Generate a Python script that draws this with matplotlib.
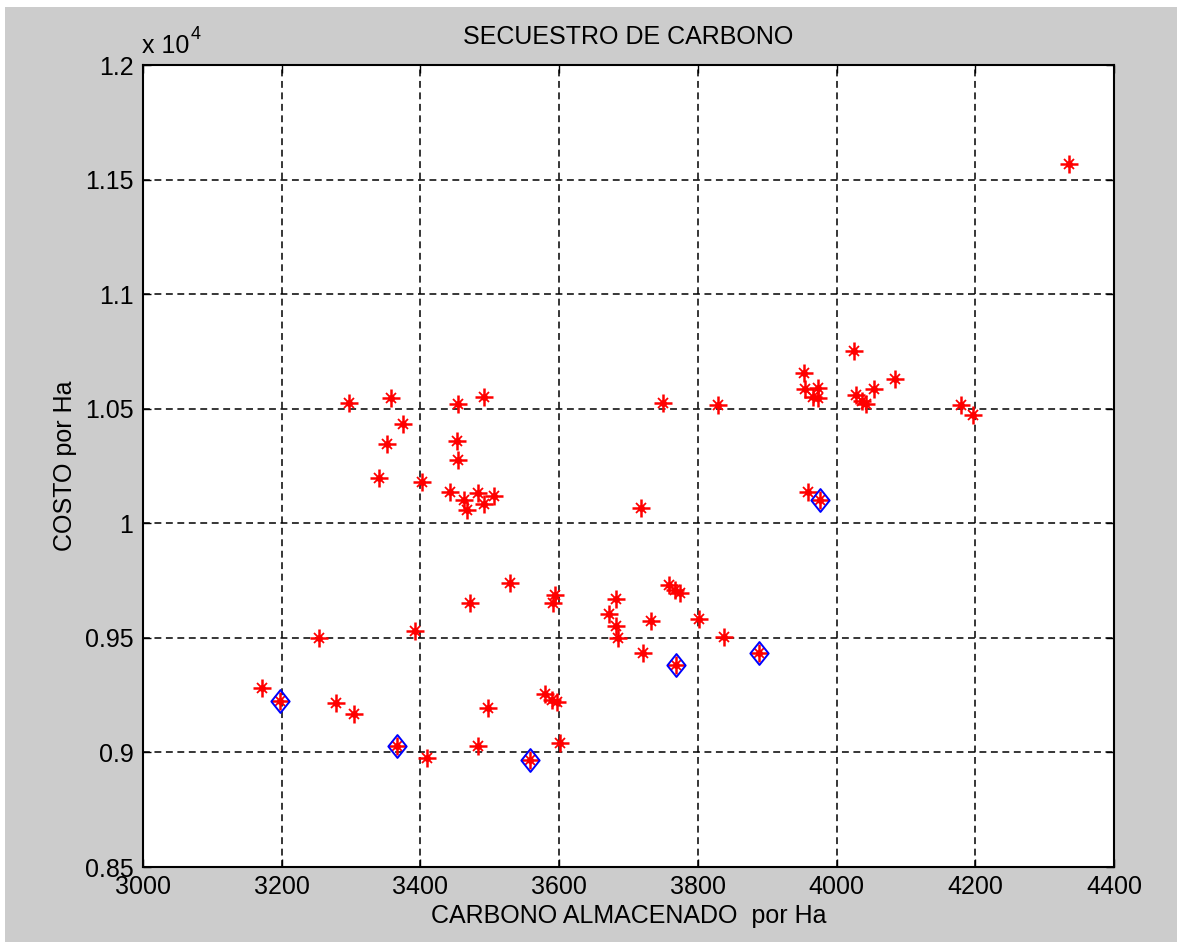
import matplotlib
matplotlib.use("Agg")
import matplotlib.pyplot as plt
from matplotlib.path import Path
from matplotlib.ticker import FuncFormatter
from matplotlib.patches import Rectangle

# carbon stored vs cost, one point per scenario
CARBONO = [
    3297, 3358, 3375, 3352, 3340, 3402, 3454, 3492, 3453, 3454, 3443, 3463,
    3467, 3483, 3492, 3506,
    3750, 3829, 3718, 3529, 3471, 3594, 3591, 3254, 3392, 3758, 3767, 3774,
    3682, 3672, 3682, 3685, 3732, 3802, 3838, 3721, 3768, 3888, 3959, 3976,
    3172, 3198, 3278, 3304, 3366, 3409, 3483, 3497, 3558, 3580, 3590, 3597, 3601,
    3953, 3954, 3973, 3966, 3973, 4025, 4028, 4037, 4042, 4054, 4084, 4179,
    4197, 4335,
]
COSTO = [
    10525, 10547, 10433, 10346, 10198, 10180, 10521, 10551, 10359, 10276, 10137, 10102,
    10058, 10132, 10084, 10119,
    10525, 10516, 10067, 9739, 9652, 9687, 9652, 9499, 9530, 9731, 9709, 9696,
    9670, 9604, 9552, 9499, 9574, 9582, 9504, 9434, 9382, 9434, 10137, 10102,
    9281, 9224, 9216, 9168, 9028, 8976, 9028, 9194, 8967, 9255, 9229, 9220, 9041,
    10656, 10586, 10590, 10551, 10547, 10752, 10560, 10534, 10521, 10586, 10630, 10516,
    10473, 11568,
]

# efficient frontier points
FRONTERA_X = [3198, 3366, 3558, 3768, 3888, 3976]
FRONTERA_Y = [9224, 9028, 8967, 9382, 9434, 10102]

X_TICKS = [3000, 3200, 3400, 3600, 3800, 4000, 4200, 4400]
Y_TICKS = [8500, 9000, 9500, 10000, 10500, 11000, 11500, 12000]

plt.rcParams["font.family"] = ["Liberation Sans", "DejaVu Sans"]
FS = 18

fig = plt.figure(figsize=(11.77, 9.42), dpi=100, facecolor="white")
# grey figure panel with a thin white margin on top and left
fig.patches.append(Rectangle((5 / 1177, 0), 1 - 5 / 1177, 1 - 7 / 942,
                             transform=fig.transFigure, facecolor="#cccccc",
                             edgecolor="none", zorder=-10))

ax = fig.add_axes([143 / 1177, 75 / 942, 971 / 1177, 802 / 942])
ax.set_facecolor("white")

# asterisk-like marker: plus + small x + centre dot
ax.plot(CARBONO, COSTO, linestyle="none", marker="+", ms=13.5, mew=1.8, color="red", zorder=3)
ax.plot(CARBONO, COSTO, linestyle="none", marker="x", ms=7.5, mew=1.3, color="red", zorder=3)
ax.plot(CARBONO, COSTO, linestyle="none", marker="o", ms=5, mew=0, color="red", zorder=3)

diamante = Path([(0, 1), (0.8, 0), (0, -1), (-0.8, 0), (0, 1)],
                [Path.MOVETO, Path.LINETO, Path.LINETO, Path.LINETO, Path.CLOSEPOLY])
ax.plot(FRONTERA_X, FRONTERA_Y, linestyle="none", marker=diamante, ms=16.5,
        mfc="none", mec="blue", mew=1.4, zorder=4)

ax.set_xlim(3000, 4400)
ax.set_ylim(8500, 12000)
ax.set_xticks(X_TICKS)
ax.set_yticks(Y_TICKS)
ax.yaxis.set_major_formatter(FuncFormatter(lambda v, p: "%g" % (v / 1e4)))

ax.grid(True, color="black", linestyle=(0, (4.5, 3)), linewidth=1.1)
ax.set_axisbelow(True)
for s in ax.spines.values():
    s.set_linewidth(1.5)
    s.set_color("black")

ax.tick_params(direction="in", length=6, width=1, top=True, right=True,
               labelsize=FS, colors="black")
ax.tick_params(axis="x", pad=6)
ax.tick_params(axis="y", pad=7)

ax.set_title("SECUESTRO DE CARBONO", fontsize=FS, pad=15)
ax.set_xlabel("CARBONO ALMACENADO  por Ha", fontsize=FS)
ax.set_ylabel("COSTO por Ha", fontsize=FS)
ax.xaxis.set_label_coords(0.5, -0.046)
ax.yaxis.set_label_coords(-0.068, 0.5)

# exponent label for the y axis
fig.text(142 / 1177, 1 - 53 / 942, "x 10", fontsize=FS, va="baseline", ha="left")
fig.text(191 / 1177, 1 - 39 / 942, "4", fontsize=13, va="baseline", ha="left")

fig.savefig("out.png", dpi=100, facecolor=fig.get_facecolor())
